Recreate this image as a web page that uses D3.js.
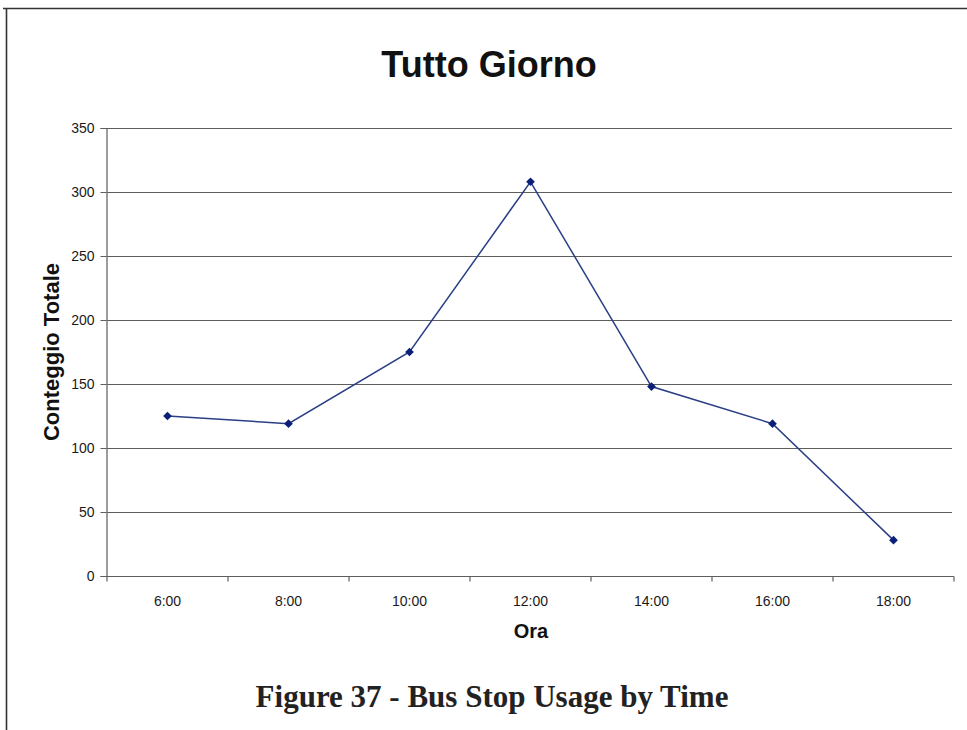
<!DOCTYPE html>
<html>
<head>
<meta charset="utf-8">
<script src="https://cdn.jsdelivr.net/npm/d3@7"></script>
<style>
  html, body { margin: 0; padding: 0; background: #fff; }
  svg { display: block; }
</style>
</head>
<body>
<svg id="chart" width="967" height="730"></svg>
<script>
// Hourly totals at the bus stop across the day
const hours = ["6:00", "8:00", "10:00", "12:00", "14:00", "16:00", "18:00"];
const counts = [125, 119, 175, 308, 148, 119, 28];
const yTicks = [0, 50, 100, 150, 200, 250, 300, 350];

const titleText = "Tutto Giorno";
const yLabel = "Conteggio Totale";
const xLabel = "Ora";
const caption = "Figure 37 - Bus Stop Usage by Time";

const svg = d3.select("#chart");
const sans = "Arial, 'Liberation Sans', Helvetica, sans-serif";

// frame lines on top and left
svg.append("line").attr("x1", 3).attr("x2", 967).attr("y1", 8.5).attr("y2", 8.5)
  .attr("stroke", "#333").attr("stroke-width", 1.6);
svg.append("line").attr("x1", 6.5).attr("x2", 6.5).attr("y1", 8).attr("y2", 730)
  .attr("stroke", "#333").attr("stroke-width", 1.6);

const plot = { left: 107, right: 954, top: 128, bottom: 576 };

const x = d3.scaleBand().domain(hours).range([plot.left, plot.right]).padding(0);
const y = d3.scaleLinear().domain([0, 350]).range([plot.bottom, plot.top]);

// horizontal gridlines
svg.append("g").selectAll("line").data(yTicks.filter(d => d > 0)).join("line")
  .attr("x1", plot.left).attr("x2", plot.right - 2)
  .attr("y1", d => Math.round(y(d)) + 0.5).attr("y2", d => Math.round(y(d)) + 0.5)
  .attr("stroke", "#5e5e5e").attr("stroke-width", 1.2);

// y axis
const yAxis = svg.append("g").attr("transform", `translate(${plot.left - 0.5},0)`)
  .call(d3.axisLeft(y).tickValues(yTicks).tickSize(6).tickPadding(6).tickFormat(d3.format("d")));
yAxis.select(".domain").attr("stroke", "#5e5e5e").attr("stroke-width", 1.2);
yAxis.selectAll(".tick line").attr("stroke", "#5e5e5e");
yAxis.selectAll("text").attr("font-family", sans).attr("font-size", 14).attr("fill", "#1a1a1a");

// x axis with ticks between categories
const xAxis = svg.append("g").attr("transform", `translate(0,${plot.bottom + 0.5})`);
xAxis.append("line").attr("x1", plot.left).attr("x2", plot.right)
  .attr("stroke", "#5e5e5e").attr("stroke-width", 1.2);
const bounds = hours.map(h => x(h)).concat([x(hours[hours.length - 1]) + x.bandwidth()]);
xAxis.selectAll("line.tk").data(bounds).join("line").attr("class", "tk")
  .attr("x1", d => d).attr("x2", d => d).attr("y1", 0).attr("y2", 5)
  .attr("stroke", "#5e5e5e").attr("stroke-width", 1.2);
xAxis.selectAll("text").data(hours).join("text")
  .attr("x", d => x(d) + x.bandwidth() / 2).attr("y", 29)
  .attr("text-anchor", "middle").attr("font-family", sans).attr("font-size", 14)
  .attr("fill", "#1a1a1a").text(d => d);

// data line
const pts = hours.map((h, i) => [x(h) + x.bandwidth() / 2, y(counts[i])]);
svg.append("path").datum(pts)
  .attr("d", d3.line())
  .attr("fill", "none").attr("stroke", "#2a3f86").attr("stroke-width", 1.5);

// diamond markers (squares turned 45 degrees)
svg.append("g").selectAll("path").data(pts).join("path")
  .attr("transform", d => `translate(${d[0]},${d[1]}) rotate(45)`)
  .attr("d", d3.symbol(d3.symbolSquare, 38))
  .attr("fill", "#0b1f78");

// titles
svg.append("text").attr("x", 489).attr("y", 77).attr("text-anchor", "middle")
  .attr("font-family", sans).attr("font-weight", "bold").attr("font-size", 36)
  .attr("fill", "#111").text(titleText);

svg.append("text").attr("transform", "translate(59,352) rotate(-90)")
  .attr("text-anchor", "middle").attr("font-family", sans).attr("font-weight", "bold")
  .attr("font-size", 22).attr("fill", "#111").text(yLabel);

svg.append("text").attr("x", 531).attr("y", 638).attr("text-anchor", "middle")
  .attr("font-family", sans).attr("font-weight", "bold").attr("font-size", 20)
  .attr("fill", "#111").text(xLabel);

svg.append("text").attr("x", 492).attr("y", 707).attr("text-anchor", "middle")
  .attr("font-family", "'Liberation Serif', 'DejaVu Serif', serif").attr("font-weight", "bold")
  .attr("font-size", 31).attr("fill", "#222").text(caption);
</script>
</body>
</html>
